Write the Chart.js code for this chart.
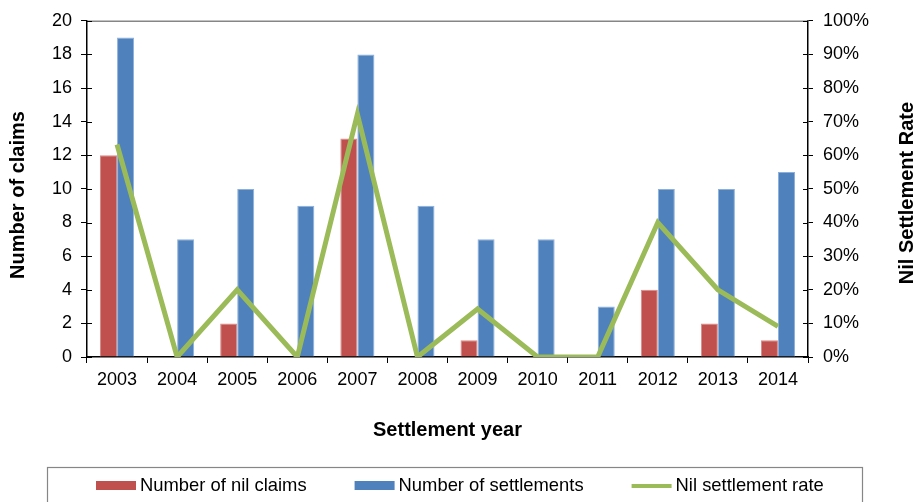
<!DOCTYPE html>
<html>
<head>
<meta charset="utf-8">
<title>Nil claims and settlements by settlement year</title>
<script src="https://cdn.jsdelivr.net/npm/chart.js@4/dist/chart.umd.min.js"></script>
<style>
  html, body { margin: 0; padding: 0; background: #ffffff; }
  #wrap { width: 916px; height: 502px; position: relative; }
</style>
</head>
<body>
<div id="wrap"><canvas id="chart"></canvas></div>
<script>
// Settlement years
const years = ['2003', '2004', '2005', '2006', '2007', '2008', '2009', '2010', '2011', '2012', '2013', '2014'];
// Number of nil claims per year
const nilClaims = [12, 0, 2, 0, 13, 0, 1, 0, 0, 4, 2, 1];
// Number of settlements per year
const settlements = [19, 7, 10, 9, 18, 9, 7, 7, 3, 10, 10, 11];
// Nil settlement rate per year (fraction)
const nilRate = [0.632, 0, 0.20, 0, 0.722, 0, 0.143, 0, 0, 0.40, 0.20, 0.091];

const seriesLabels = ['Number of nil claims', 'Number of settlements', 'Nil settlement rate'];
const leftTitle = 'Number of claims';
const rightTitle = 'Nil Settlement Rate';
const bottomTitle = 'Settlement year';

const FONT = "'Liberation Sans', Arial, Helvetica, sans-serif";
const RED = '#C0504D', BLUE = '#4F81BD', GREEN = '#9BBB59';

function drawVerticalTitle(ctx, text, x, y) {
  ctx.save();
  ctx.fillStyle = '#000';
  ctx.font = 'bold 20px ' + FONT;
  ctx.textAlign = 'center';
  ctx.textBaseline = 'middle';
  ctx.translate(x, y);
  ctx.rotate(-Math.PI / 2);
  ctx.fillText(text, 0, 0);
  ctx.restore();
}

// Frame details: grey top border, inner halves of the value-axis tick marks,
// both vertical axis titles (reading bottom to top) and the boxed legend.
const framePlugin = {
  id: 'frame',
  afterDraw(chart) {
    const ctx = chart.ctx;
    const a = chart.chartArea;
    ctx.save();
    // grey top border
    ctx.strokeStyle = '#868686';
    ctx.lineWidth = 1.5;
    ctx.beginPath();
    ctx.moveTo(a.left, a.top + 0.5);
    ctx.lineTo(a.right, a.top + 0.5);
    ctx.stroke();

    // inner tick marks on both value axes
    ctx.strokeStyle = '#000';
    ctx.lineWidth = 1;
    const yL = chart.scales.y, yR = chart.scales.y1;
    yL.ticks.forEach((t, i) => {
      const py = Math.round(yL.getPixelForTick(i)) + 0.5;
      ctx.beginPath(); ctx.moveTo(a.left, py); ctx.lineTo(a.left + 5, py); ctx.stroke();
    });
    yR.ticks.forEach((t, i) => {
      const py = Math.round(yR.getPixelForTick(i)) + 0.5;
      ctx.beginPath(); ctx.moveTo(a.right - 5, py); ctx.lineTo(a.right, py); ctx.stroke();
    });
    ctx.restore();

    // axis titles
    drawVerticalTitle(ctx, leftTitle, 18, 195);
    drawVerticalTitle(ctx, rightTitle, 907, 193);

    // legend box
    ctx.save();
    ctx.strokeStyle = '#868686';
    ctx.lineWidth = 1.2;
    ctx.strokeRect(47.5, 467.5, 815, 60);
    ctx.font = '18.4px ' + FONT;
    ctx.textBaseline = 'middle';
    ctx.textAlign = 'left';
    const ly = 486;
    let x = 96;
    chart.data.datasets.slice().sort((p, q) => p.legendIndex - q.legendIndex).forEach(ds => {
      if (ds.type === 'line') {
        ctx.strokeStyle = ds.borderColor;
        ctx.lineWidth = 4;
        ctx.beginPath(); ctx.moveTo(x, ly); ctx.lineTo(x + 40, ly); ctx.stroke();
      } else {
        ctx.fillStyle = ds.backgroundColor;
        ctx.fillRect(x, ly - 5, 40, 9);
      }
      ctx.fillStyle = '#000';
      ctx.fillText(ds.label, x + 44, ly);
      x += 44 + ctx.measureText(ds.label).width + 48;
    });
    ctx.restore();
  }
};

new Chart(document.getElementById('chart'), {
  data: {
    labels: years,
    datasets: [
      {
        type: 'line',
        label: seriesLabels[2],
        data: nilRate,
        yAxisID: 'y1',
        borderColor: GREEN,
        backgroundColor: GREEN,
        borderWidth: 5,
        pointRadius: 0,
        tension: 0,
        borderJoinStyle: 'miter',
        borderCapStyle: 'butt',
        order: 0,
        legendIndex: 2
      },
      {
        type: 'bar',
        label: seriesLabels[0],
        data: nilClaims,
        yAxisID: 'y',
        backgroundColor: RED,
        borderColor: '#D88A88',
        borderWidth: 1,
        categoryPercentage: 0.567,
        barPercentage: 1.0,
        order: 1,
        legendIndex: 0
      },
      {
        type: 'bar',
        label: seriesLabels[1],
        data: settlements,
        yAxisID: 'y',
        backgroundColor: BLUE,
        borderColor: '#8CB0DB',
        borderWidth: 1,
        categoryPercentage: 0.567,
        barPercentage: 1.0,
        order: 1,
        legendIndex: 1
      }
    ]
  },
  options: {
    responsive: true,
    maintainAspectRatio: false,
    animation: false,
    layout: { padding: { top: 20, left: 0, right: 0, bottom: 0 } },
    plugins: {
      legend: { display: false },
      tooltip: { enabled: false }
    },
    scales: {
      x: {
        type: 'category',
        offset: true,
        grid: {
          display: true,
          offset: true,
          drawOnChartArea: false,
          drawTicks: true,
          tickLength: 6,
          color: '#000',
          lineWidth: 1
        },
        border: { display: true, color: '#000', width: 1.5 },
        ticks: { font: { family: FONT, size: 18 }, color: '#000', padding: 6, maxRotation: 0, autoSkip: false },
        title: {
          display: true,
          text: bottomTitle,
          font: { family: FONT, size: 20, weight: 'bold' },
          color: '#000',
          padding: { top: 0, bottom: 60 }
        },
        afterFit(scale) { scale.height = 145; }
      },
      y: {
        position: 'left',
        min: 0,
        max: 20,
        ticks: { stepSize: 2, font: { family: FONT, size: 18 }, color: '#000', padding: 9 },
        grid: {
          display: true,
          drawOnChartArea: false,
          drawTicks: true,
          tickLength: 6,
          color: '#000',
          lineWidth: 1
        },
        border: { display: true, color: '#000', width: 1.5 },
        afterFit(scale) { scale.width = 87; }
      },
      y1: {
        position: 'right',
        min: 0,
        max: 1,
        ticks: {
          stepSize: 0.1,
          font: { family: FONT, size: 18 },
          color: '#000',
          padding: 10,
          callback: v => Math.round(v * 100) + '%'
        },
        grid: {
          display: true,
          drawOnChartArea: false,
          drawTicks: true,
          tickLength: 5,
          color: '#000',
          lineWidth: 1
        },
        border: { display: true, color: '#000', width: 1.5 },
        afterFit(scale) { scale.width = 108; }
      }
    }
  },
  plugins: [framePlugin]
});
</script>
</body>
</html>
